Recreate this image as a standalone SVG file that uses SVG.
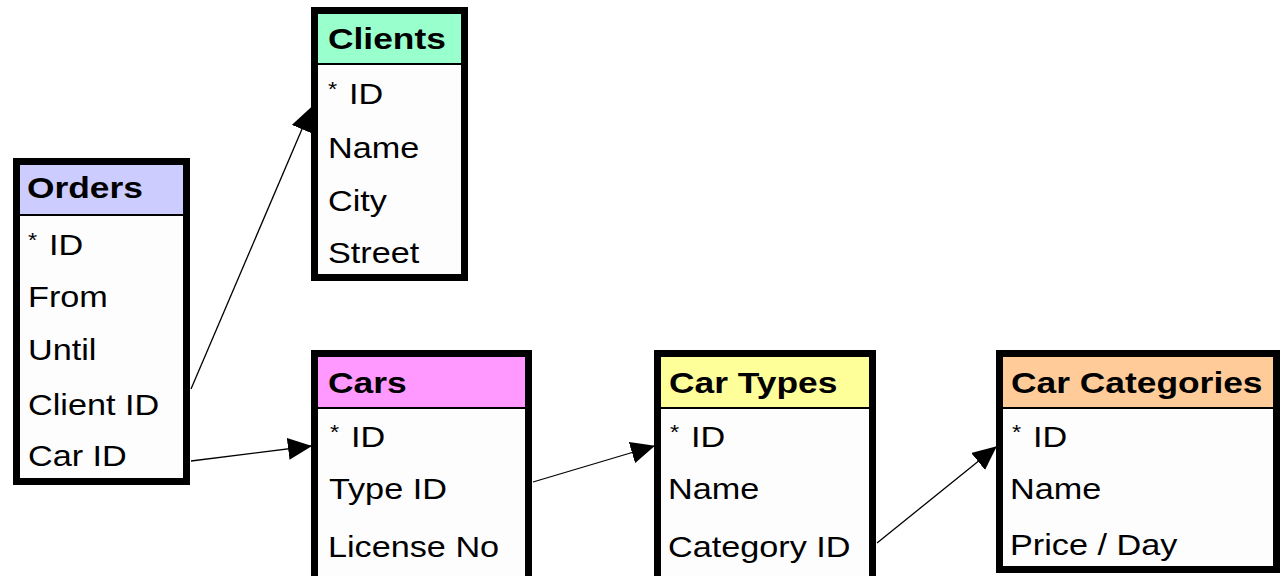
<svg xmlns="http://www.w3.org/2000/svg" width="1282" height="576" viewBox="0 0 1282 576">
<style>
.box{fill:#fdfdfd;stroke:#000;stroke-width:7}
.div{stroke:#000;stroke-width:2}
.hd{font-family:"Liberation Sans",Arial,sans-serif;font-weight:bold;font-size:29px;fill:#000}
.tx{font-family:"Liberation Sans",Arial,sans-serif;font-size:29px;fill:#000}
.ast{font-size:20px}
.conn{fill:none;stroke:#000;stroke-width:1.3}
</style>
<defs>
<marker id="arr" markerUnits="userSpaceOnUse" markerWidth="24" markerHeight="22" refX="23" refY="11" orient="auto">
<path d="M0,0 L24,11 L0,22 Z" fill="#000"/>
</marker>
</defs>
<rect width="1282" height="576" fill="#fff"/>
<g id="connectors">
<line class="conn" x1="191" y1="389" x2="311" y2="108" marker-end="url(#arr)"/>
<line class="conn" x1="191" y1="461" x2="311" y2="446" marker-end="url(#arr)"/>
<line class="conn" x1="533" y1="482" x2="654" y2="446" marker-end="url(#arr)"/>
<line class="conn" x1="877" y1="543" x2="996" y2="447" marker-end="url(#arr)"/>
</g>
<g id="orders">
<rect class="box" x="16.5" y="161.5" width="170" height="320"/>
<rect x="20" y="165" width="163" height="49" fill="#ccccff"/>
<line class="div" x1="20" y1="215" x2="183" y2="215"/>
<text class="hd" transform="translate(27 198) scale(1.22 1)">Orders</text>
<text class="tx" transform="translate(28 255) scale(1.18 1)"><tspan class="ast" dy="-8">*</tspan><tspan dx="10" dy="8">ID</tspan></text>
<text class="tx" transform="translate(28 307) scale(1.18 1)">From</text>
<text class="tx" transform="translate(28 360) scale(1.18 1)">Until</text>
<text class="tx" transform="translate(28 415) scale(1.18 1)">Client ID</text>
<text class="tx" transform="translate(28 466) scale(1.18 1)">Car ID</text>
</g>
<g id="clients">
<rect class="box" x="314.5" y="10.5" width="150" height="267"/>
<rect x="318" y="14" width="143" height="49" fill="#99ffcc"/>
<line class="div" x1="318" y1="64" x2="461" y2="64"/>
<text class="hd" transform="translate(328 49) scale(1.22 1)">Clients</text>
<text class="tx" transform="translate(328 104) scale(1.18 1)"><tspan class="ast" dy="-8">*</tspan><tspan dx="10" dy="8">ID</tspan></text>
<text class="tx" transform="translate(328 158) scale(1.18 1)">Name</text>
<text class="tx" transform="translate(328 211) scale(1.18 1)">City</text>
<text class="tx" transform="translate(328 263) scale(1.18 1)">Street</text>
</g>
<g id="cars">
<rect class="box" x="314.5" y="353.5" width="214" height="230"/>
<rect x="318" y="357" width="207" height="50" fill="#ff99ff"/>
<line class="div" x1="318" y1="408" x2="525" y2="408"/>
<text class="hd" transform="translate(328 393) scale(1.22 1)">Cars</text>
<text class="tx" transform="translate(330 447) scale(1.18 1)"><tspan class="ast" dy="-8">*</tspan><tspan dx="10" dy="8">ID</tspan></text>
<text class="tx" transform="translate(329 499) scale(1.18 1)">Type ID</text>
<text class="tx" transform="translate(328 557) scale(1.18 1)">License No</text>
</g>
<g id="car-types">
<rect class="box" x="657.5" y="353.5" width="215" height="230"/>
<rect x="661" y="357" width="208" height="50" fill="#ffff99"/>
<line class="div" x1="661" y1="408" x2="869" y2="408"/>
<text class="hd" transform="translate(669 393) scale(1.22 1)">Car Types</text>
<text class="tx" transform="translate(670 447) scale(1.18 1)"><tspan class="ast" dy="-8">*</tspan><tspan dx="10" dy="8">ID</tspan></text>
<text class="tx" transform="translate(668 499) scale(1.18 1)">Name</text>
<text class="tx" transform="translate(668 557) scale(1.18 1)">Category ID</text>
</g>
<g id="car-categories">
<rect class="box" x="999.5" y="353.5" width="277" height="216"/>
<rect x="1003" y="357" width="270" height="50" fill="#ffcc99"/>
<line class="div" x1="1003" y1="408" x2="1273" y2="408"/>
<text class="hd" transform="translate(1011 393) scale(1.22 1)">Car Categories</text>
<text class="tx" transform="translate(1012 447) scale(1.18 1)"><tspan class="ast" dy="-8">*</tspan><tspan dx="10" dy="8">ID</tspan></text>
<text class="tx" transform="translate(1010 499) scale(1.18 1)">Name</text>
<text class="tx" transform="translate(1010 555) scale(1.18 1)">Price / Day</text>
</g>
</svg>
